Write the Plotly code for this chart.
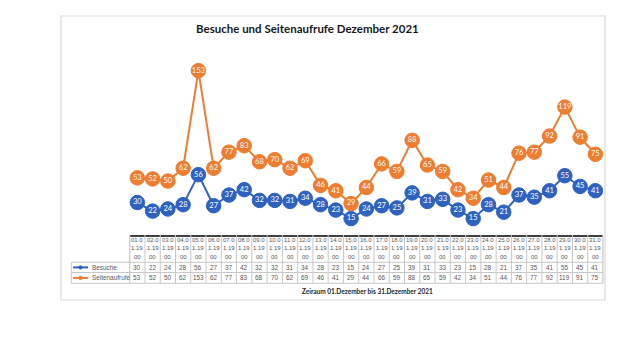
import plotly.graph_objects as go

dates = [f"{d:02d}.0" for d in range(1, 32)]
date_line2 = ["1.19"] * 31
date_line3 = ["00"] * 31
besuche = [30, 22, 24, 28, 56, 27, 37, 42, 32, 32, 31, 34, 28, 23, 15, 24, 27, 25, 39, 31, 33, 23, 15, 28, 21, 37, 35, 41, 55, 45, 41]
seiten = [53, 52, 50, 62, 153, 62, 77, 83, 68, 70, 62, 69, 46, 41, 29, 44, 66, 59, 88, 65, 59, 42, 34, 51, 44, 76, 77, 92, 119, 91, 75]
series_names = ["Besuche", "Seitenaufrufe"]
title_text = "Besuche und Seitenaufrufe Dezember 2021"
footer_text = "Zeiraum 01.Dezember bis 31.Dezember 2021"

BLUE = "#2F62C0"
ORANGE = "#ED7D31"
GRAY = "#595959"
GRID = "#c8c8c8"
FONT = "Lato"
SMALL = "Liberation Sans"

W, H = 640, 360
def px(x): return x / W
def py(y): return 1 - y / H

X0, X1 = 121.7, 595.0
Y_AXIS = 226.7
Y_TOP = 33.7
xs = list(range(31))

fig = go.Figure()
for vals, col, name in [(besuche, BLUE, series_names[0]), (seiten, ORANGE, series_names[1])]:
    fig.add_trace(go.Scatter(
        x=xs, y=vals, mode="lines+markers+text", name=name,
        line=dict(color=col, width=2),
        marker=dict(size=14.5, color=col, line=dict(color=col, width=1)),
        text=[str(v) for v in vals], textposition="middle center",
        textfont=dict(color="white", size=7.5, family=FONT),
        cliponaxis=False, showlegend=False,
    ))

shapes = []
annotations = []

shapes.append(dict(type="rect", xref="paper", yref="paper", x0=px(53), x1=px(597), y0=py(292), y1=py(8),
                   line=dict(color="#d9d9d9", width=1.2), layer="below"))

H_TOP, R1, R2, R3 = Y_AXIS, 254.3, 264.5, 275.3
LEG_X = 63.3
for i in range(32):
    xv = i - 0.5
    shapes.append(dict(type="line", xref="x", yref="paper", x0=xv, x1=xv, y0=py(H_TOP), y1=py(R3),
                       line=dict(color=GRID, width=1)))
for yy in (R1, R2, R3):
    shapes.append(dict(type="line", xref="paper", yref="paper", x0=px(LEG_X), x1=px(X1), y0=py(yy), y1=py(yy),
                       line=dict(color=GRID, width=1)))
shapes.append(dict(type="line", xref="paper", yref="paper", x0=px(LEG_X), x1=px(LEG_X), y0=py(R1), y1=py(R3),
                   line=dict(color=GRID, width=1)))
shapes.append(dict(type="line", xref="paper", yref="paper", x0=px(X0), x1=px(X0), y0=py(H_TOP), y1=py(R3),
                   line=dict(color=GRID, width=1)))
shapes.append(dict(type="line", xref="paper", yref="paper", x0=px(X1), x1=px(X1), y0=py(H_TOP), y1=py(R3),
                   line=dict(color=GRID, width=1)))

hf = dict(family=SMALL, size=6.0, color=GRAY)
tf = dict(family=SMALL, size=6.4, color=GRAY)
for i in xs:
    for txt, yy in ((dates[i], 231.9), (date_line2[i], 240.3), (date_line3[i], 248.6)):
        annotations.append(dict(x=i, y=py(yy), xref="x", yref="paper", text=txt, showarrow=False,
                                font=hf, xanchor="center", yanchor="middle"))
    annotations.append(dict(x=i, y=py((R1 + R2) / 2), xref="x", yref="paper", text=str(besuche[i]),
                            showarrow=False, font=tf, xanchor="center", yanchor="middle"))
    annotations.append(dict(x=i, y=py((R2 + R3) / 2), xref="x", yref="paper", text=str(seiten[i]),
                            showarrow=False, font=tf, xanchor="center", yanchor="middle"))

for (name, col), yc in zip([(series_names[0], BLUE), (series_names[1], ORANGE)], [(R1 + R2) / 2, (R2 + R3) / 2]):
    shapes.append(dict(type="line", xref="paper", yref="paper", x0=px(65), x1=px(80), y0=py(yc), y1=py(yc),
                       line=dict(color=col, width=2)))
    shapes.append(dict(type="circle", xref="paper", yref="paper", x0=px(70.8), x1=px(74.2), y0=py(yc + 1.7), y1=py(yc - 1.7),
                       line=dict(color=col, width=1), fillcolor=col))
    annotations.append(dict(x=px(81.5), y=py(yc), xref="paper", yref="paper", text=name, showarrow=False,
                            font=tf, xanchor="left", yanchor="middle"))

annotations.append(dict(x=px(299), y=py(20), xref="paper", yref="paper", text="<b>" + title_text + "</b>",
                        showarrow=False, font=dict(family=FONT, size=11.5, color="#1a1a1a"),
                        xanchor="center", yanchor="middle"))
annotations.append(dict(x=px(359), y=py(283), xref="paper", yref="paper", text="<b>" + footer_text + "</b>",
                        showarrow=False, font=dict(family=FONT, size=6.5, color="#262626"),
                        xanchor="center", yanchor="middle"))

fig.update_layout(
    width=W, height=H, autosize=False,
    margin=dict(l=0, r=0, t=0, b=0),
    paper_bgcolor="white", plot_bgcolor="white",
    xaxis=dict(domain=[px(X0), px(X1)], range=[-0.5, 30.5], showticklabels=False, ticks="",
               showgrid=False, zeroline=False, showline=True, linecolor="#404040", linewidth=1.5),
    yaxis=dict(domain=[py(Y_AXIS), py(Y_TOP)], range=[0, 180], showticklabels=False, ticks="",
               showgrid=False, zeroline=False, showline=False),
    shapes=shapes, annotations=annotations,
)
fig.write_html("out.html")
